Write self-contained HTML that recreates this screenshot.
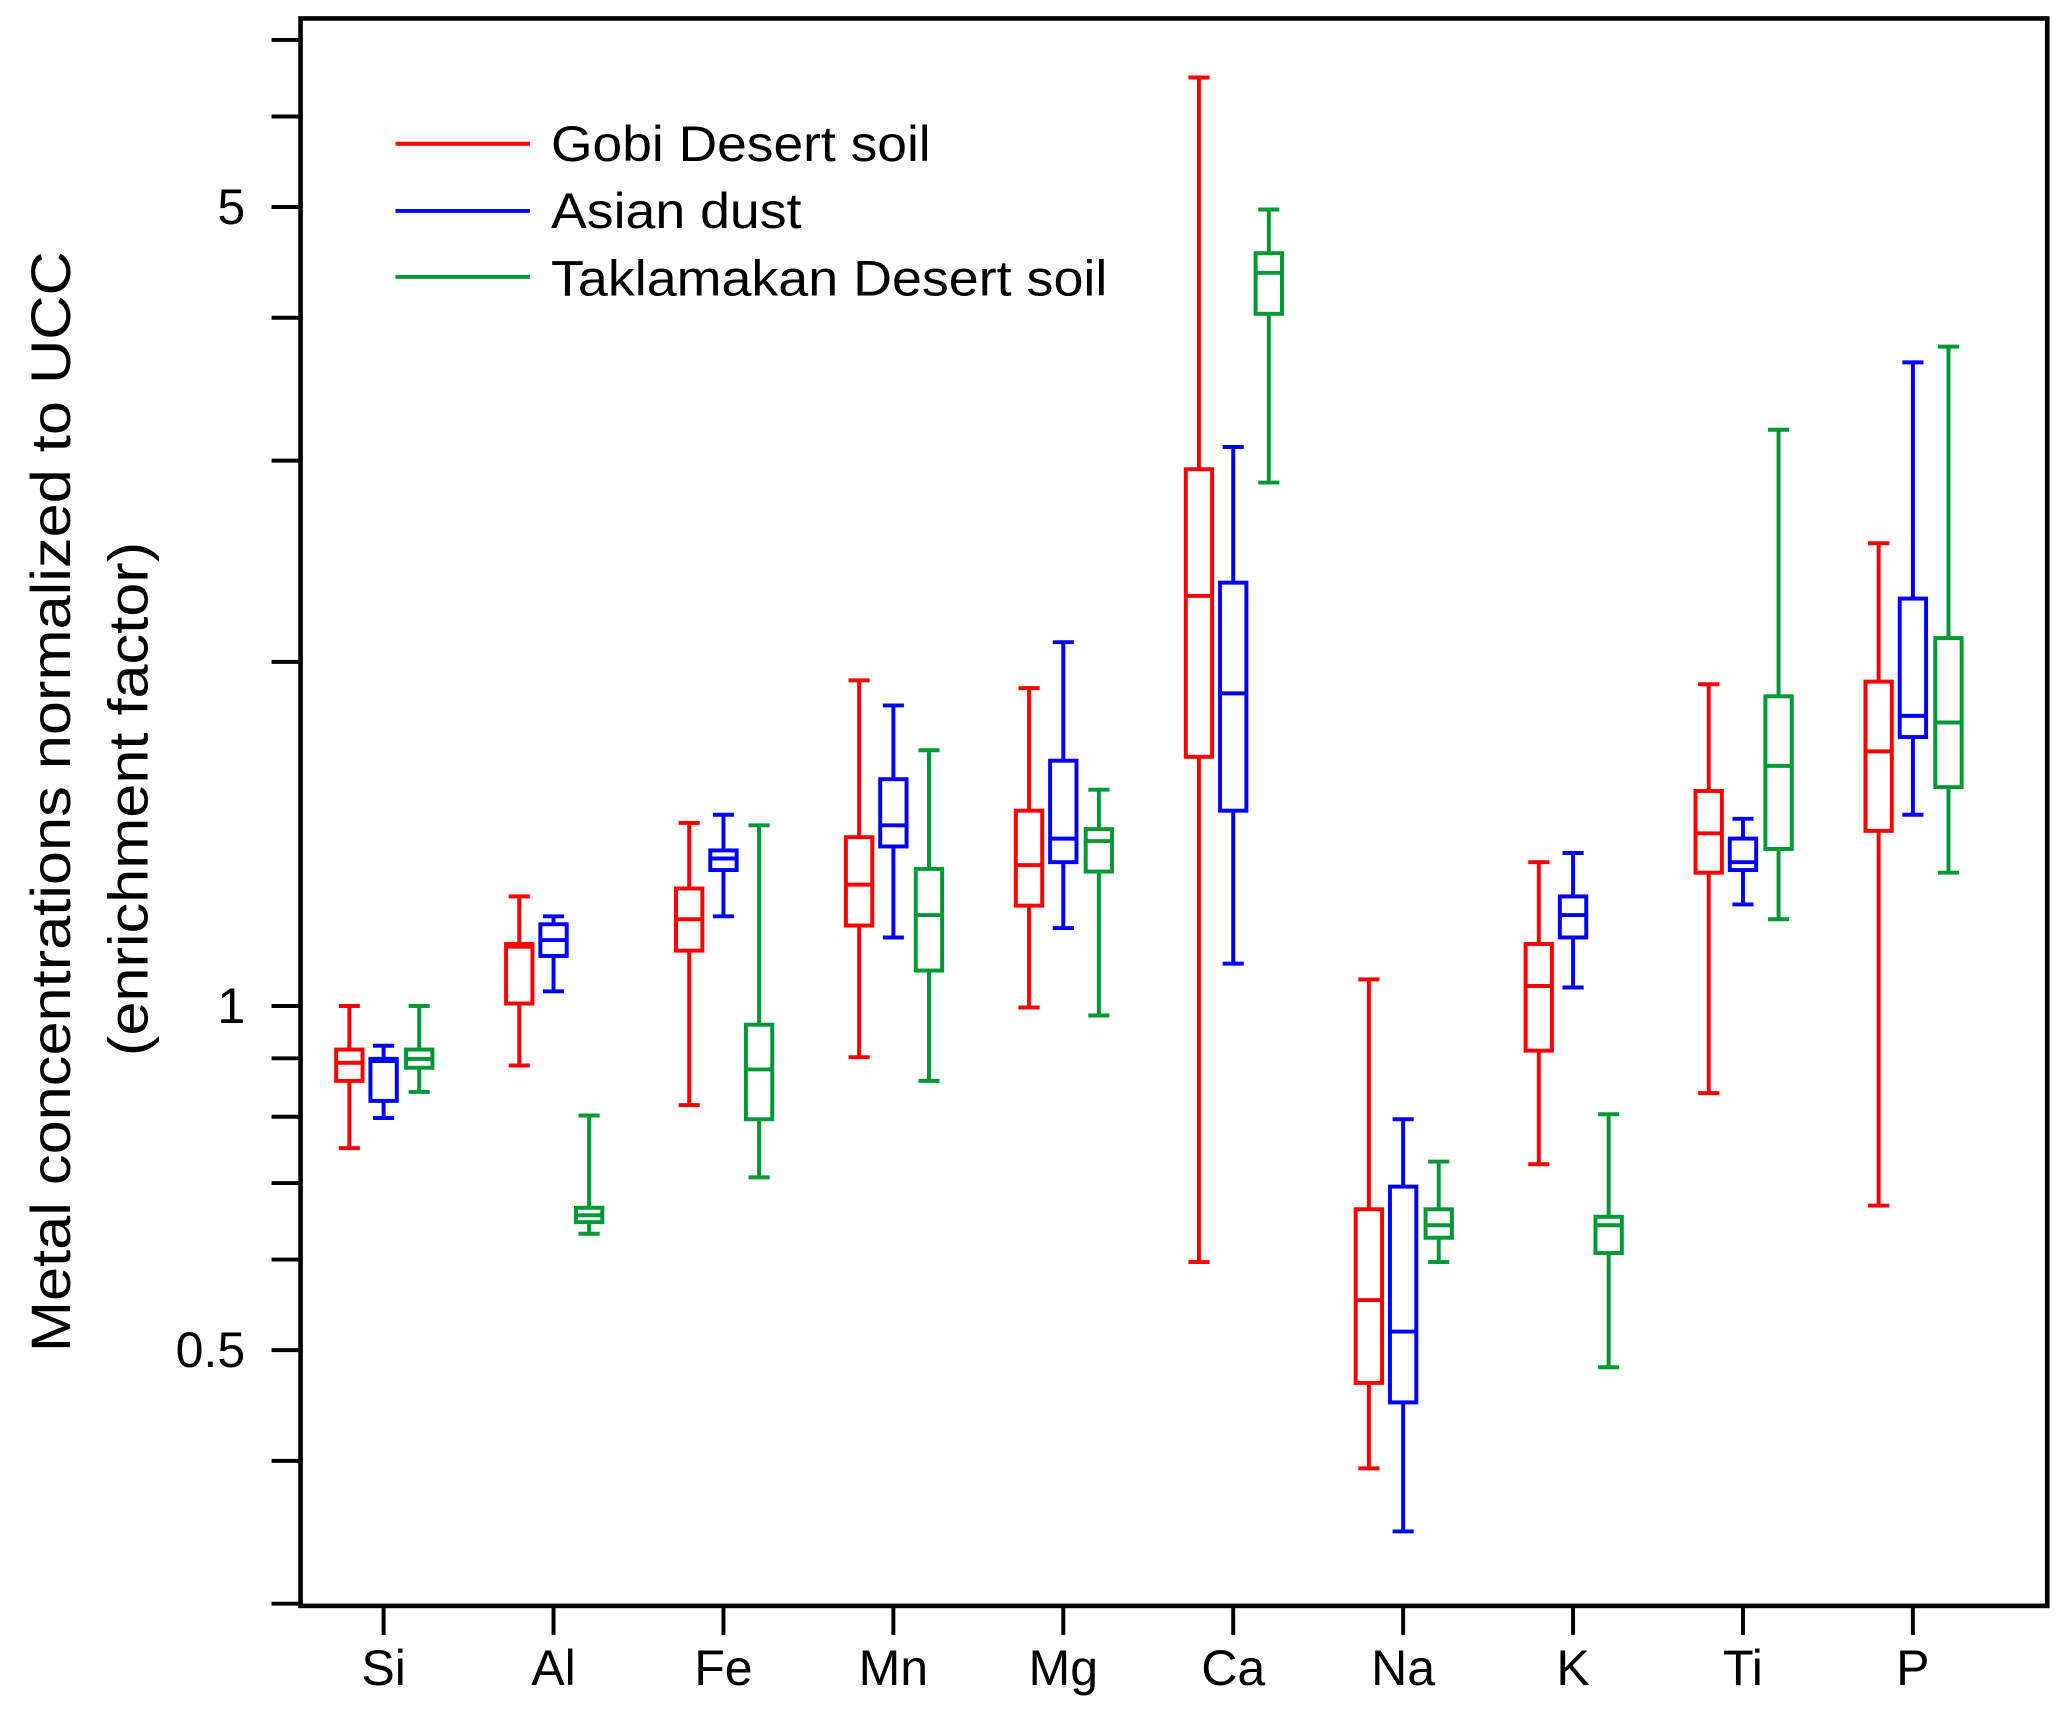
<!DOCTYPE html>
<html><head><meta charset="utf-8"><style>
html,body{margin:0;padding:0;background:#fff;}
svg{display:block;font-family:"Liberation Sans",Arial,sans-serif;}
</style></head><body>
<svg id="chart" width="2067" height="1714" viewBox="0 0 1568 1300" preserveAspectRatio="none" xmlns="http://www.w3.org/2000/svg">
<rect width="1568" height="1300" fill="#fff"/>
<g id="marks"></g>
<rect x="228" y="14" width="1325" height="1204" fill="none" stroke="#000" stroke-width="3.5"/>
<g id="axes"></g>
<text transform="translate(53,608) rotate(-90)" text-anchor="middle" font-size="42" textLength="835" lengthAdjust="spacingAndGlyphs">Metal concentrations normalized to UCC</text>
<text transform="translate(112,606) rotate(-90)" text-anchor="middle" font-size="42" textLength="390" lengthAdjust="spacingAndGlyphs">(enrichment factor)</text>
<g>
<line x1="300" y1="109" x2="402" y2="109" stroke="#ff0000" stroke-width="3"/>
<text x="418" y="122" font-size="38" textLength="288" lengthAdjust="spacingAndGlyphs">Gobi Desert soil</text>
<line x1="300" y1="160" x2="402" y2="160" stroke="#0000ff" stroke-width="3"/>
<text x="418" y="173" font-size="38" textLength="190" lengthAdjust="spacingAndGlyphs">Asian dust</text>
<line x1="300" y1="210" x2="402" y2="210" stroke="#009933" stroke-width="3"/>
<text x="418" y="224" font-size="38" textLength="422" lengthAdjust="spacingAndGlyphs">Taklamakan Desert soil</text>
</g>
</svg>
<script>
const categories = ["Si","Al","Fe","Mn","Mg","Ca","Na","K","Ti","P"];
// each entry: [max, q3, median, q1, min]
const gobiValues = [
 [1.00,0.916,0.892,0.860,0.751],[1.247,1.133,1.127,1.005,0.887],[1.446,1.267,1.191,1.118,0.819],
 [1.927,1.405,1.277,1.176,0.902],[1.897,1.482,1.328,1.224,0.997],[6.49,2.948,2.284,1.652,0.597],
 [1.055,0.664,0.553,0.468,0.394],[1.336,1.133,1.041,0.914,0.727],[1.912,1.542,1.416,1.308,0.839],
 [2.540,1.922,1.670,1.423,0.669]];
const asianValues = [
 [0.923,0.899,0.895,0.826,0.798],[1.198,1.179,1.142,1.106,1.030],[1.470,1.368,1.346,1.315,1.198],
 [1.832,1.579,1.439,1.379,1.148],[2.081,1.639,1.401,1.336,1.170],[3.083,2.346,1.877,1.482,1.089],
 [0.796,0.695,0.519,0.450,0.347],[1.361,1.247,1.201,1.148,1.038],[1.458,1.401,1.336,1.315,1.227],
 [3.656,2.272,1.794,1.719,1.470]];
const taklaValues = [
 [1.00,0.916,0.899,0.883,0.841],[0.802,0.666,0.656,0.647,0.632],[1.439,0.963,0.880,0.796,0.708],
 [1.674,1.318,1.201,1.074,0.860],[1.546,1.428,1.394,1.311,0.981],[4.975,4.556,4.379,4.032,2.870],
 [0.731,0.664,0.643,0.627,0.597],[0.804,0.654,0.643,0.608,0.483],[3.192,1.866,1.622,1.372,1.191],
 [3.774,2.098,1.770,1.554,1.308]];
const yMajorTicks = [0.5,1,5];
const yMajorLabels = ["0.5","1","5"];
const yMinorTicks = [0.3,0.4,0.6,0.7,0.8,0.9,2,3,4,6,7];

const NS="http://www.w3.org/2000/svg";
const Y1=763, PXDEC=867, X0=291, DX=128.9;
function yScale(v){return Y1-Math.log10(v)*PXDEC;}
function xScale(i){return X0+i*DX;}
function mk(tag,attrs,parent){const e=document.createElementNS(NS,tag);for(const k in attrs)e.setAttribute(k,attrs[k]);parent.appendChild(e);return e;}
const marks=document.getElementById('marks'), axes=document.getElementById('axes');
const series=[{d:gobiValues,c:"#ff0000",o:-26,n:"gobi"},{d:asianValues,c:"#0000ff",o:0,n:"asian"},{d:taklaValues,c:"#009933",o:27,n:"taklamakan"}];
series.forEach(s=>{
 s.d.forEach((v,i)=>{
  const cx=xScale(i)+s.o;
  const g=mk('g',{stroke:s.c,'stroke-width':3,fill:'none'},marks);
  
  
  const [mx,q3,md,q1,mn]=v.map(yScale);
  mk('line',{x1:cx,x2:cx,y1:mx,y2:q3},g);
  mk('line',{x1:cx,x2:cx,y1:q1,y2:mn},g);
  mk('line',{x1:cx-8,x2:cx+8,y1:mx,y2:mx},g);
  mk('line',{x1:cx-8,x2:cx+8,y1:mn,y2:mn},g);
  mk('rect',{x:cx-10,y:q3,width:20,height:Math.max(q1-q3,0.5)},g);
  mk('line',{x1:cx-10,x2:cx+10,y1:md,y2:md},g);
 });
});
yMajorTicks.forEach((t,i)=>{
 const y=yScale(t);
 const l=mk('line',{x1:206,x2:228,y1:y,y2:y,stroke:'#000','stroke-width':3},axes);
 
 
 const tx=mk('text',{x:186,y:y+13,'text-anchor':'end','font-size':38},axes);
 tx.textContent=yMajorLabels[i];
 
 
});
yMinorTicks.forEach(t=>{
 const y=yScale(t);
 const l=mk('line',{x1:206,x2:228,y1:y,y2:y,stroke:'#000','stroke-width':3},axes);
 
 
});
categories.forEach((c,i)=>{
 const x=xScale(i);
 const l=mk('line',{x1:x,x2:x,y1:1218,y2:1240,stroke:'#000','stroke-width':3},axes);
 
 
 const tx=mk('text',{x:x,y:1278,'text-anchor':'middle','font-size':38},axes);
 tx.textContent=c;
 
 
});
</script>
</body></html>
